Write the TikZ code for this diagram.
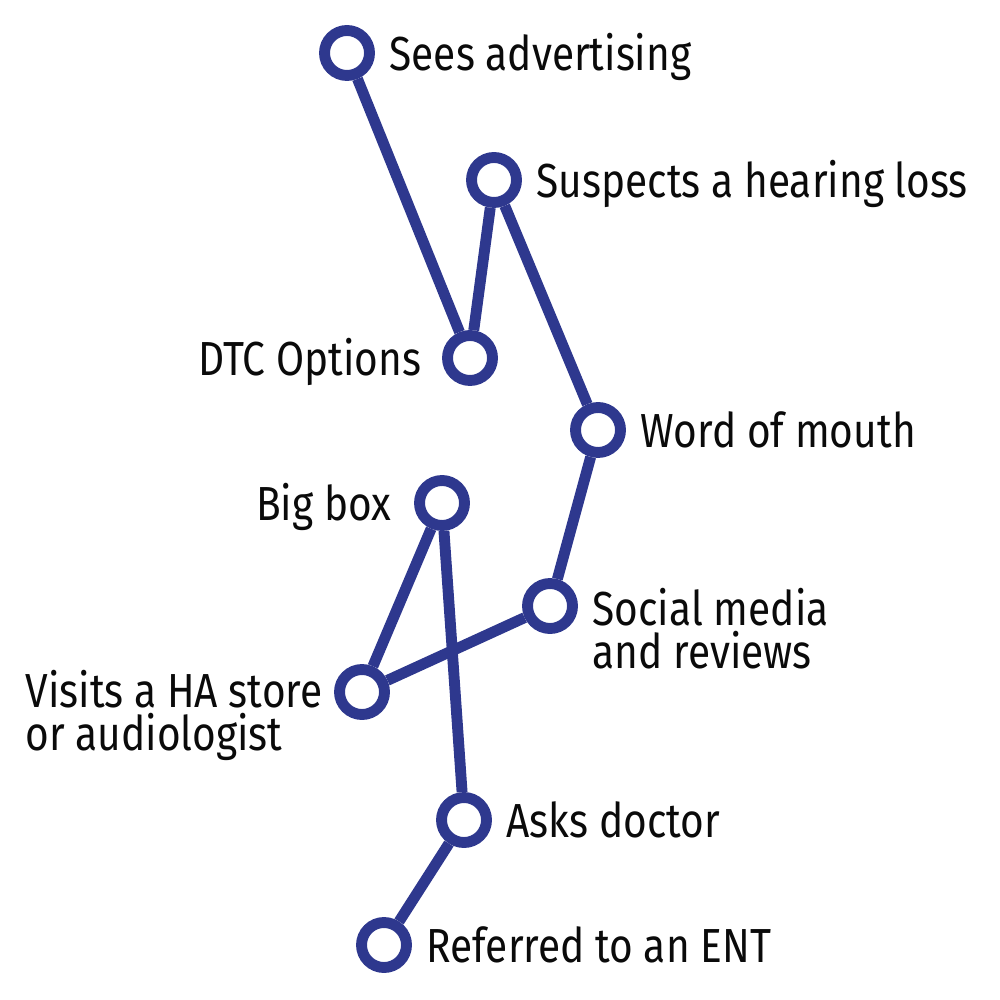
\documentclass[tikz,border=0pt]{standalone}
\usepackage{fontspec}
\setmainfont[FakeStretch=0.85]{Fira Sans}
\usepackage{tikz}
\usetikzlibrary{positioning, calc}
\definecolor{myblue}{RGB}{46,56,142}
\definecolor{mytext}{RGB}{10,10,10}
\tikzset{
  stop/.style={circle, draw=myblue, fill=white, line width=3.1pt,
    minimum size=0.45cm, inner sep=0pt},
  lbl/.style={inner sep=0pt, text=mytext, align=left,
    font=\fontsize{13.6}{12.2}\selectfont, text height=0.45cm, text depth=0.1cm},
  route/.style={draw=myblue, line width=3.1pt}
}
\begin{document}
\begin{tikzpicture}[x=1cm, y=1cm]
  \useasboundingbox (0,0) rectangle (10,-10);

  % Stops along the path
  \node[stop] (adv) at (3.47,-0.53) {};
  \node[stop] (susp) at (4.94,-1.80) {};
  \node[stop] (dtc) at (4.70,-3.58) {};
  \node[stop] (wom) at (5.98,-4.30) {};
  \node[stop] (soc) at (5.50,-6.06) {};
  \node[stop] (visit) at (3.62,-6.92) {};
  \node[stop] (bigbox) at (4.42,-5.03) {};
  \node[stop] (doctor) at (4.64,-8.20) {};
  \node[stop] (ent) at (3.84,-9.45) {};

  % Route
  \draw[route] (adv) -- (dtc);
  \draw[route] (dtc) -- (susp);
  \draw[route] (susp) -- (wom);
  \draw[route] (wom) -- (soc);
  \draw[route] (soc) -- (visit);
  \draw[route] (visit) -- (bigbox);
  \draw[route] (bigbox) -- (doctor);
  \draw[route] (doctor) -- (ent);

  % Labels
  \node[lbl, right=0.14cm of adv] (advlbl) {Sees advertising};
  \node[lbl, right=0.14cm of susp] (susplbl) {Suspects a hearing loss};
  \node[lbl, left=0.2cm of dtc] (dtclbl) {DTC Options};
  \node[lbl, right=0.14cm of wom] (womlbl) {Word of mouth};
  \node[lbl, left=0.22cm of bigbox] (bigboxlbl) {Big box};
  \node[lbl, right=0.14cm of soc, yshift=-0.48cm, text height=0.33cm, text depth=0.05cm] (soclbl) {Social media\\and reviews};
  \node[lbl, left=0.11cm of visit, yshift=-0.44cm, text height=0.33cm, text depth=0.05cm] (visitlbl) {Visits a HA store\\or audiologist};
  \node[lbl, right=0.14cm of doctor] (doctorlbl) {Asks doctor};
  \node[lbl, right=0.14cm of ent] (entlbl) {Referred to an ENT};
\end{tikzpicture}
\end{document}
